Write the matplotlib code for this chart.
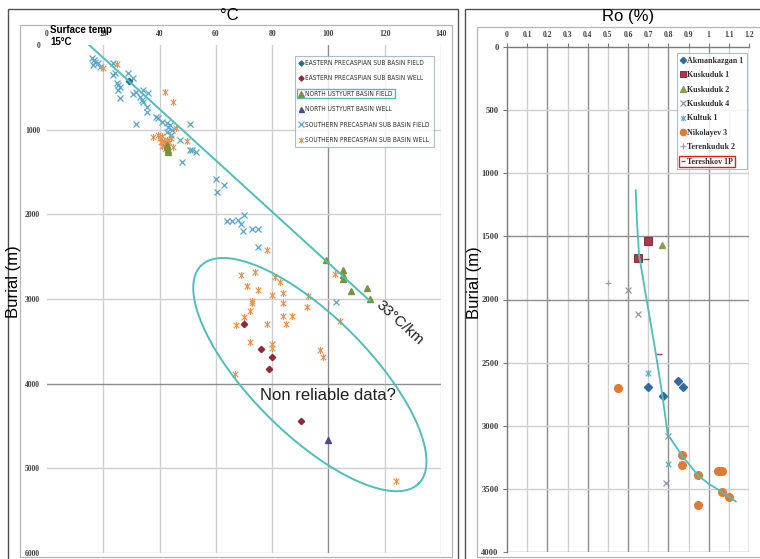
import matplotlib
matplotlib.use("Agg")
import numpy as np
import matplotlib.pyplot as plt
from matplotlib.patches import Rectangle
from matplotlib.path import Path

W, H = 760, 559


def fx(px):
    return px / W


def fy(py):
    return 1 - py / H


# ---------------- left chart: temperature vs burial ----------------
ep_field_t = [29.3]
ep_field_d = [430]

ep_well_t = [69.9, 76.0, 80.0, 78.9, 90.1]
ep_well_d = [3294, 3586, 3689, 3826, 4438]

nu_field_t = [42.5, 42.8, 43.0, 43.1, 99.0, 105.0, 105.0, 105.0, 108.0, 113.8, 114.6]
nu_field_d = [1180, 1210, 1240, 1262, 2544, 2663, 2720, 2761, 2911, 2872, 3000]

nu_well_t = [100.0]
nu_well_d = [4660]

sp_field_t = [15.9, 17.0, 18.2, 16.4, 18.8, 16.8, 23.5, 23.5, 24.1, 28.8, 30.6, 25.3,
              24.7, 25.9, 25.3, 25.9, 30.4, 31.8, 33.0, 34.2, 36.0, 33.6, 34.2, 35.4,
              35.4, 31.8, 38.9, 39.5, 40.7, 42.5, 43.0, 42.5, 43.7, 44.5, 47.2, 50.8,
              50.8, 53.1, 51.4, 47.8, 44.0, 41.5, 60.0, 62.9, 60.5, 64.0, 65.9, 67.9,
              69.9, 69.1, 69.5, 72.7, 75.0, 75.0, 102.8]
sp_field_d = [158, 197, 217, 237, 257, 178, 217, 355, 330, 335, 395, 473,
              453, 493, 533, 623, 583, 552, 611, 533, 572, 651, 671, 730,
              789, 935, 848, 868, 907, 927, 966, 1026, 947, 1000, 1124, 935,
              1243, 1262, 1243, 1381, 1060, 1180, 1578, 1657, 1736, 2083, 2079, 2071,
              2004, 2118, 2197, 2177, 2169, 2387, 3038]

sp_well_t = [25.0, 20.0, 41.9, 44.8, 46.0, 39.5, 40.2, 41.0, 41.5, 42.0, 42.5, 41.0,
             43.0, 42.0, 43.5, 40.5, 44.0, 37.7, 49.6, 44.8, 78.0, 69.1, 73.8, 70.9,
             75.0, 72.9, 73.0, 72.1, 69.9, 67.1, 80.9, 82.7, 83.9, 80.1, 83.9, 83.9,
             86.9, 85.1, 78.3, 72.1, 79.8, 80.0, 92.8, 92.4, 96.9, 98.1, 66.7, 102.2,
             104.0, 124.1]
sp_well_d = [220, 276, 552, 671, 975, 1060, 1100, 1080, 1130, 1160, 1120, 1190,
             1200, 1230, 1150, 1150, 1100, 1085, 1132, 1203, 2420, 2722, 2683, 2852,
             2899, 3018, 3050, 3144, 3215, 3302, 2742, 2801, 2927, 2947, 3049, 3195,
             3203, 3294, 3294, 3511, 3531, 3580, 2970, 3097, 3598, 3689, 3885, 2710,
             3263, 5148]

left_labels = ["EASTERN PRECASPIAN SUB BASIN FIELD", "EASTERN PRECASPIAN SUB BASIN WELL",
               "NORTH USTYURT BASIN FIELD", "NORTH USTYURT BASIN WELL",
               "SOUTHERN PRECASPIAN SUB BASIN FIELD", "SOUTHERN PRECASPIAN SUB BASIN WELL"]

surface_temp = 15.0
gradient = 33.0       # degC per km
grad_depth = [0, 3020]

temp_ticks = [0, 20, 40, 60, 80, 100, 120, 140]
burial_ticks = [0, 1000, 2000, 3000, 4000, 5000, 6000]

# ---------------- right chart: Ro vs burial ----------------
akm_ro = [0.699, 0.772, 0.850, 0.871]
akm_d = [2696, 2767, 2643, 2696]
kus1_ro = [0.700, 0.648]
kus1_d = [1537, 1672]
kus2_ro = [0.770]
kus2_d = [1571]
kus4_ro = [0.600, 0.651, 0.797, 0.788]
kus4_d = [1923, 2114, 3079, 3450]
kul_ro = [0.700, 0.797]
kul_d = [2582, 3304]
nik_ro = [0.549, 0.869, 0.869, 0.945, 1.048, 1.058, 1.068, 1.067, 1.100, 0.945]
nik_d = [2704, 3230, 3312, 3391, 3357, 3357, 3357, 3524, 3561, 3627]
ter2_ro = [0.499]
ter2_d = [1870]
tsh_ro = [0.688, 0.754]
tsh_d = [1677, 2431]

fit_ro = [0.638, 0.645, 0.655, 0.693, 0.735, 0.772, 0.797, 0.870, 0.945, 1.000, 1.067, 1.135]
fit_d = [1135, 1400, 1650, 2008, 2400, 2775, 3070, 3240, 3390, 3460, 3525, 3600]

right_labels = ["Akmankazgan 1", "Kuskuduk 1", "Kuskuduk 2", "Kuskuduk 4",
                "Kultuk 1", "Nikolayev 3", "Terenkuduk 2", "Tereshkov 1P"]

ro_ticks = [round(0.1 * i, 1) for i in range(13)]
ro_ticklabels = ["0", "0.1", "0.2", "0.3", "0.4", "0.5", "0.6", "0.7", "0.8", "0.9", "1", "1.1", "1.2"]
burial_ticks_r = list(range(0, 4001, 500))

TEAL = "#4dbfb6"
LIGHT_GRID = "#cfcfcf"
DARK_GRID = "#8e8e8e"
TICK_FONT = dict(family="Liberation Serif", weight="bold", color="#404040")

star = Path([(-1, -1), (1, 1), (-1, 1), (1, -1), (0, -1.25), (0, 1.25)],
            [Path.MOVETO, Path.LINETO] * 3)

fig = plt.figure(figsize=(7.6, 5.59), dpi=100)
fig.patch.set_facecolor("white")


def frame(x0, y0, x1, y1, ec, lw):
    fig.patches.append(Rectangle((fx(x0), fy(y1)), (x1 - x0) / W, (y1 - y0) / H,
                                 transform=fig.transFigure, fill=False, ec=ec, lw=lw, zorder=0))


frame(8, 9, 458, 580, "#505050", 1.0)
frame(20, 25, 452, 557, "#b5b5b5", 0.9)
frame(465, 9, 775, 580, "#505050", 1.0)
frame(477, 27, 775, 557, "#b5b5b5", 0.9)

# ---------- left axes ----------
axL = fig.add_axes([fx(47), fy(553), (441 - 47) / W, (553 - 45) / H])
axL.set_xlim(0, 140)
axL.set_ylim(6000, 0)
for s in axL.spines.values():
    s.set_visible(False)
axL.xaxis.tick_top()
axL.set_xticks(temp_ticks)
axL.set_yticks(burial_ticks)
axL.tick_params(length=0, labelsize=5.5, pad=5)
for lab in axL.get_xticklabels() + axL.get_yticklabels():
    lab.set(**TICK_FONT)
for t in temp_ticks[1:]:
    axL.axvline(t, color=DARK_GRID if t == 100 else LIGHT_GRID, lw=1.0, zorder=1)
for d in burial_ticks[1:]:
    axL.axhline(d, color=DARK_GRID if d == 4000 else LIGHT_GRID, lw=1.0, zorder=1)

hL = []
hL += axL.plot(ep_field_t, ep_field_d, ls="none", marker="D", ms=3.2, mfc="#2b6a8e", mec="#2b6a8e", zorder=4)
hL += axL.plot(ep_well_t, ep_well_d, ls="none", marker="D", ms=3.2, mfc="#8c2a3a", mec="#8c2a3a", zorder=4)
hL += axL.plot(nu_field_t, nu_field_d, ls="none", marker="^", ms=5, mfc="#77933c", mec="#77933c", zorder=4)
hL += axL.plot(nu_well_t, nu_well_d, ls="none", marker="^", ms=4.5, mfc="#4a4a8a", mec="#4a4a8a", zorder=4)
hL += axL.plot(sp_field_t, sp_field_d, ls="none", marker="x", ms=5, mec="#5aa5c8", mew=0.9, zorder=3)
hL += axL.plot(sp_well_t, sp_well_d, ls="none", marker=star, ms=5, mfc="none", mec="#e8904e", mew=0.8, zorder=3)

depth_arr = np.array(grad_depth, dtype=float)
axL.plot(surface_temp + gradient * depth_arr / 1000.0, depth_arr, color=TEAL, lw=1.4, zorder=5)

# pixel scales of the left axes
ppx = (441 - 47) / 140.0
ppy = (553 - 45) / 6000.0
ang = -np.degrees(np.arctan((1000 * ppy) / (gradient * ppx)))
axL.text(125.3, 3278, "33°C/km", rotation=ang, ha="center", va="center",
         fontsize=11, family="Liberation Sans", color="#202020", zorder=6)
axL.text(100, 4142, "Non reliable data?", ha="center", va="center",
         fontsize=12, family="Liberation Sans", color="#202020", zorder=6)

# ellipse around unreliable data (drawn in pixel space, mapped to data)
tt = np.linspace(0, 2 * np.pi, 300)
a_px, b_px = 154.0, 59.0
dx = (a_px * np.cos(tt) + b_px * np.sin(tt)) / np.sqrt(2)
dy = (a_px * np.cos(tt) - b_px * np.sin(tt)) / np.sqrt(2)
axL.plot(93.4 + dx / ppx, 3893 + dy / ppy, color=TEAL, lw=1.4, zorder=5)

fig.text(fx(50), fy(30), "Surface temp", fontsize=7, weight="bold", family="Liberation Sans",
         ha="left", va="center")
fig.text(fx(50), fy(42), "15°C", fontsize=7, weight="bold", family="Liberation Sans",
         ha="left", va="center")
fig.text(fx(229), fy(16), "°C", fontsize=12, family="Liberation Sans", ha="center", va="center")
fig.text(fx(14), fy(282), "Burial (m)", fontsize=12, family="Liberation Sans", rotation=90,
         ha="center", va="center")

legL = axL.legend(hL, left_labels, loc="upper left", bbox_to_anchor=(fx(295), fy(56)),
                  bbox_transform=fig.transFigure, frameon=True, fancybox=False,
                  prop=dict(family="DejaVu Sans", stretch="condensed", size=4.7),
                  handlelength=0.7, handletextpad=0.3, labelspacing=1.45, borderpad=0.6,
                  borderaxespad=0, markerscale=0.8)
legL.get_frame().set_edgecolor("#9aaabb")
legL.get_frame().set_linewidth(0.8)
for t in legL.get_texts():
    t.set_color("#303030")

# ---------- right axes ----------
axR = fig.add_axes([fx(507), fy(552), (749 - 507) / W, (552 - 47) / H])
axR.set_xlim(0, 1.2)
axR.set_ylim(4000, 0)
for k in ["right", "bottom"]:
    axR.spines[k].set_visible(False)
for k in ["top", "left"]:
    axR.spines[k].set_color("#7a7a7a")
    axR.spines[k].set_linewidth(1.0)
axR.xaxis.tick_top()
axR.set_xticks(ro_ticks)
axR.set_xticklabels(ro_ticklabels)
axR.set_yticks(burial_ticks_r)
axR.tick_params(axis="x", length=3, color="#7a7a7a", labelsize=5.5, pad=3)
axR.tick_params(axis="y", length=3, color="#7a7a7a", labelsize=6.2, pad=3)
for lab in axR.get_xticklabels() + axR.get_yticklabels():
    lab.set(**TICK_FONT)
for i, r in enumerate(ro_ticks[1:], start=1):
    axR.axvline(r, color=DARK_GRID if i % 2 == 0 else LIGHT_GRID, lw=1.0, zorder=1)
for d in burial_ticks_r[1:]:
    axR.axhline(d, color=DARK_GRID if d in (1500, 2000, 4000) else LIGHT_GRID, lw=1.0, zorder=1)

hR = []
hR += axR.plot(akm_ro, akm_d, ls="none", marker="D", ms=4, mfc="#2f6aa3", mec="#2f6aa3", zorder=4)
hR += axR.plot(kus1_ro, kus1_d, ls="none", marker="s", ms=5.5, mfc="#b03545", mec="#7a2030", mew=0.6, zorder=4)
hR += axR.plot(kus2_ro, kus2_d, ls="none", marker="^", ms=5, mfc="#8c9c4e", mec="#8c9c4e", zorder=4)
hR += axR.plot(kus4_ro, kus4_d, ls="none", marker="x", ms=5, mec="#9098a8", mew=0.9, zorder=4)
hR += axR.plot(kul_ro, kul_d, ls="none", marker=star, ms=5, mfc="none", mec="#5fb0b8", mew=0.9, zorder=4)
hR += axR.plot(nik_ro, nik_d, ls="none", marker="o", ms=5.5, mfc="#e07a35", mec="#e07a35", zorder=4)
hR += axR.plot(ter2_ro, ter2_d, ls="none", marker="+", ms=5, mec="#a0a0aa", mew=0.9, zorder=4)
hR += axR.plot(tsh_ro, tsh_d, ls="none", marker="_", ms=4, mec="#a04060", mew=1.0, zorder=4)

axR.plot(fit_ro, fit_d, color=TEAL, lw=1.3, zorder=5)

fig.text(fx(628), fy(16), "Ro (%)", fontsize=12, family="Liberation Sans", ha="center", va="center")
fig.text(fx(474), fy(283), "Burial (m)", fontsize=12, family="Liberation Sans", rotation=90,
         ha="center", va="center")

legR = axR.legend(hR, right_labels, loc="upper left", bbox_to_anchor=(fx(677), fy(53)),
                  bbox_transform=fig.transFigure, frameon=True, fancybox=False,
                  prop=dict(family="Liberation Serif", weight="bold", size=5.8),
                  handlelength=0.6, handletextpad=0.2, labelspacing=0.8, borderpad=0.45,
                  borderaxespad=0, markerscale=0.8)
legR.get_frame().set_edgecolor("#9aaabb")
legR.get_frame().set_linewidth(0.8)
for t in legR.get_texts():
    t.set_color("#303030")

# highlight boxes round one legend entry each
fig.canvas.draw()
for leg, idx, col in [(legL, 2, TEAL), (legR, 7, "#e02020")]:
    lb = leg.get_window_extent()
    tb = leg.get_texts()[idx].get_window_extent()
    x0, x1 = lb.x0 + 2, tb.x1 + 2
    y0, y1 = tb.y0 - 1.5, tb.y1 + 1.5
    fig.patches.append(Rectangle((x0 / W, y0 / H), (x1 - x0) / W, (y1 - y0) / H,
                                 transform=fig.transFigure, fill=False, ec=col, lw=1.0, zorder=10))

fig.savefig("out.png", dpi=100, facecolor="white")
